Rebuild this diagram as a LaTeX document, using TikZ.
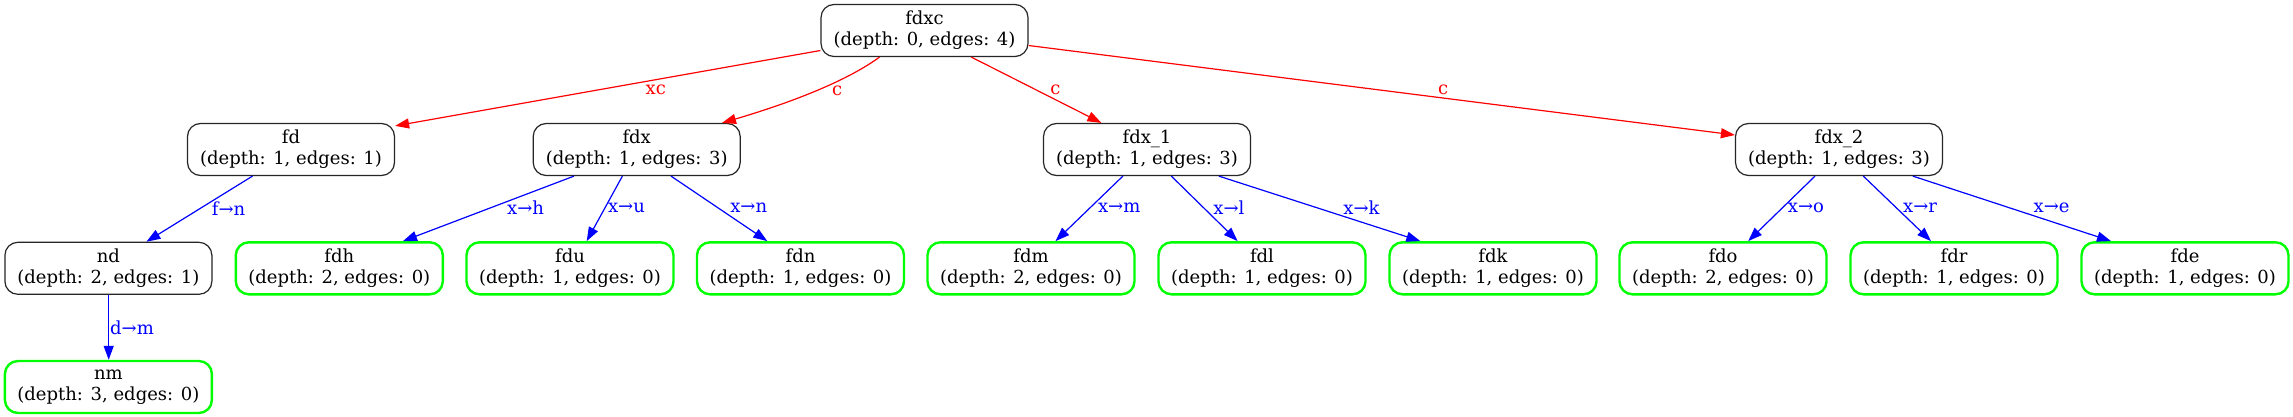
\documentclass[tikz,border=0pt]{standalone}
\usepackage{fontspec}
\setmainfont{DejaVu Serif}
\usetikzlibrary{arrows.meta}
\begin{document}
\begin{tikzpicture}[x=1pt,y=-1pt,
  txt/.style={font=\fontsize{18}{20.7}\selectfont},
  box/.style={txt, draw=black!85, line width=1.2pt, rounded corners=13pt, minimum width=207pt, minimum height=52pt, inner sep=0pt, align=center},
  leaf/.style={box, draw=green, line width=2.4pt},
  redge/.style={draw=red, line width=1.2pt, -{Triangle[length=14pt,width=10pt]}},
  bedge/.style={draw=blue, line width=1.2pt, -{Triangle[length=14pt,width=10pt]}},
  rlab/.style={txt, text=red, inner sep=0pt},
  blab/.style={txt, text=blue, inner sep=0pt}]
\path[use as bounding box, fill=white] (0,0) rectangle (2293,417);
% nodes
\node[box]  (fdxc) at (924.5,30.5) {fdxc\\(depth: 0, edges: 4)};
\node[box]  (fd)   at (291,149.5)  {fd\\(depth: 1, edges: 1)};
\node[box]  (fdx)  at (636.7,149.5) {fdx\\(depth: 1, edges: 3)};
\node[box]  (fdx1) at (1147,149.5) {fdx\_1\\(depth: 1, edges: 3)};
\node[box]  (fdx2) at (1839,149.5) {fdx\_2\\(depth: 1, edges: 3)};
\node[box]  (nd)   at (108.4,268.3) {nd\\(depth: 2, edges: 1)};
\node[leaf] (fdh)  at (339.3,268.3) {fdh\\(depth: 2, edges: 0)};
\node[leaf] (fdu)  at (570,268.3) {fdu\\(depth: 1, edges: 0)};
\node[leaf] (fdn)  at (800.5,268.3) {fdn\\(depth: 1, edges: 0)};
\node[leaf] (fdm)  at (1031,268.3) {fdm\\(depth: 2, edges: 0)};
\node[leaf] (fdl)  at (1262,268.3) {fdl\\(depth: 1, edges: 0)};
\node[leaf] (fdk)  at (1493,268.3) {fdk\\(depth: 1, edges: 0)};
\node[leaf] (fdo)  at (1723,268.3) {fdo\\(depth: 2, edges: 0)};
\node[leaf] (fdr)  at (1954,268.3) {fdr\\(depth: 1, edges: 0)};
\node[leaf] (fde)  at (2185,268.3) {fde\\(depth: 1, edges: 0)};
\node[leaf] (nm)   at (108.4,387) {nm\\(depth: 3, edges: 0)};
% red edges
\draw[redge] ([yshift=-20pt]fdxc.west) -- node[rlab, pos=0.387, yshift=-10pt] {xc} ([yshift=-3pt]fd.north east);
\draw[redge] ([xshift=-45pt]fdxc.south) .. controls +(-39.5,29) and +(48,-14) .. node[rlab, pos=0.3, yshift=-9pt] {c} ([xshift=85.3pt]fdx.north);
\draw[redge] ([xshift=46.8pt]fdxc.south) -- node[rlab, pos=0.5, xshift=19pt] {c} ([xshift=-45.6pt]fdx1.north);
\draw[redge] ([yshift=-15pt]fdxc.east) -- node[rlab, pos=0.587, yshift=8pt] {c} ([yshift=14.5pt]fdx2.west);
% blue edges
\draw[bedge] ([xshift=-38.5pt]fd.south) -- node[blab, pos=0.49, xshift=28pt] {f→n} ([xshift=38pt]nd.north);
\draw[bedge] ([xshift=-62.7pt]fdx.south) -- node[blab, pos=0.485, xshift=34.5pt] {x→h} ([xshift=63.7pt]fdh.north);
\draw[bedge] ([xshift=-14.3pt]fdx.south) -- node[blab, pos=0.485, xshift=21.4pt] {x→u} ([xshift=16.7pt]fdu.north);
\draw[bedge] ([xshift=34.3pt]fdx.south) -- node[blab, pos=0.485, xshift=31pt] {x→n} ([xshift=-33.2pt]fdn.north);
\draw[bedge] ([xshift=0.3pt]nd.south) -- node[blab, pos=0.5, xshift=23.3pt] {d→m} ([xshift=0.3pt]nm.north);
\draw[bedge] ([xshift=-24.1pt]fdx1.south) -- node[blab, pos=0.485, xshift=29pt] {x→m} ([xshift=24.5pt]fdm.north);
\draw[bedge] ([xshift=24.3pt]fdx1.south) -- node[blab, pos=0.485, xshift=25.5pt] {x→l} ([xshift=-24.4pt]fdl.north);
\draw[bedge] ([xshift=71.8pt]fdx1.south) -- node[blab, pos=0.485, xshift=45pt] {x→k} ([xshift=-72.7pt]fdk.north);
\draw[bedge] ([xshift=-24pt]fdx2.south) -- node[blab, pos=0.485, xshift=23.4pt] {x→o} ([xshift=25.2pt]fdo.north);
\draw[bedge] ([xshift=24.3pt]fdx2.south) -- node[blab, pos=0.485, xshift=24pt] {x→r} ([xshift=-23pt]fdr.north);
\draw[bedge] ([xshift=73.8pt]fdx2.south) -- node[blab, pos=0.485, xshift=42.6pt] {x→e} ([xshift=-74pt]fde.north);
\end{tikzpicture}
\end{document}
